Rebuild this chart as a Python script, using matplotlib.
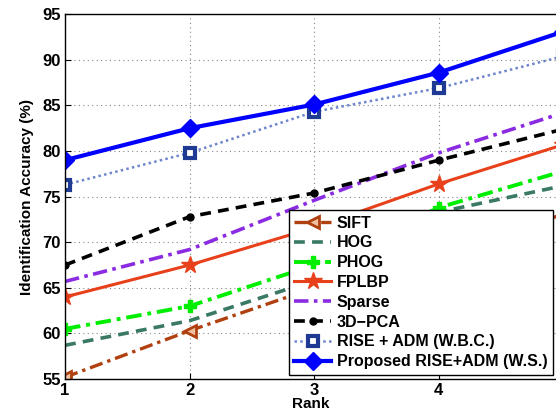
import matplotlib.pyplot as plt

plt.rcParams['font.family'] = ['Liberation Sans', 'DejaVu Sans']
plt.rcParams['font.weight'] = 'bold'

rank = [1, 2, 3, 4, 5]
sift = [55.2, 60.3, 65.0, 69.5, 73.0]
hog = [58.7, 61.4, 65.8, 73.3, 76.2]
phog = [60.5, 63.0, 67.5, 73.8, 77.8]
fplbp = [64.0, 67.5, 71.6, 76.4, 80.7]
sparse = [65.7, 69.2, 74.6, 79.8, 84.2]
pca3d = [67.5, 72.8, 75.4, 79.0, 82.4]
rise_wbc = [76.3, 79.8, 84.3, 86.9, 90.4]
rise_ws = [79.0, 82.5, 85.1, 88.6, 93.1]

fig = plt.figure(figsize=(5.56, 4.17), dpi=100)
ax = fig.add_axes([0.117, 0.091, 0.883, 0.875])

ax.plot(rank, sift, color='#b04010', ls=(0, (4, 1.5, 1, 1.5)), lw=2.4, marker='<', ms=9,
        mfc='#f0c0a0', mew=2, label='SIFT')
ax.plot(rank, hog, color='#3a7a62', ls=(0, (3, 2)), lw=2.6, label='HOG')
ax.plot(rank, phog, color='#00ee00', ls=(0, (4, 1.5, 1, 1.5)), lw=2.8, marker='P', ms=8,
        label='PHOG')
ax.plot(rank, fplbp, color='#e8401a', ls='-', lw=2.2, marker='*', ms=13, label='FPLBP')
ax.plot(rank, sparse, color='#8a2be2', ls=(0, (4, 1.5, 1, 1.5)), lw=2.6, label='Sparse')
ax.plot(rank, pca3d, color='black', ls=(0, (3, 2)), lw=2.6, marker='o', ms=5,
        label='3D\u2212PCA')
ax.plot(rank, rise_wbc, color='#6f86cc', ls=(0, (1, 1.3)), lw=1.8, marker='s', ms=7,
        mfc='white', mec='#1f3a93', mew=3, label='RISE + ADM (W.B.C.)')
ax.plot(rank, rise_ws, color='#0000ff', ls='-', lw=3, marker='D', ms=9,
        label='Proposed RISE+ADM (W.S.)')

ax.set_xlim(1, 4.94)
ax.set_ylim(55, 95)
ax.set_xticks([1, 2, 3, 4])
ax.set_yticks(range(55, 96, 5))
ax.grid(True, color='#888888', ls=(0, (1, 3)), lw=0.8)
ax.tick_params(direction='in', labelsize=12, length=4, pad=3)
for s in ax.spines.values():
    s.set_linewidth(1.0)
ax.spines['right'].set_visible(False)

ax.set_xlabel('Rank', fontsize=11, fontweight='bold', labelpad=-1)
ax.set_ylabel('Identification Accuracy (%)', fontsize=11, fontweight='bold', labelpad=6)

leg = ax.legend(loc='lower right', bbox_to_anchor=(1.0, 0.003), fontsize=11.5,
                handlelength=2.3, fancybox=False, framealpha=1, edgecolor='black',
                borderpad=0.35, labelspacing=0.3, handletextpad=0.35, borderaxespad=0.2)
leg.get_frame().set_linewidth(1.0)

fig.savefig('out.png', dpi=100)
